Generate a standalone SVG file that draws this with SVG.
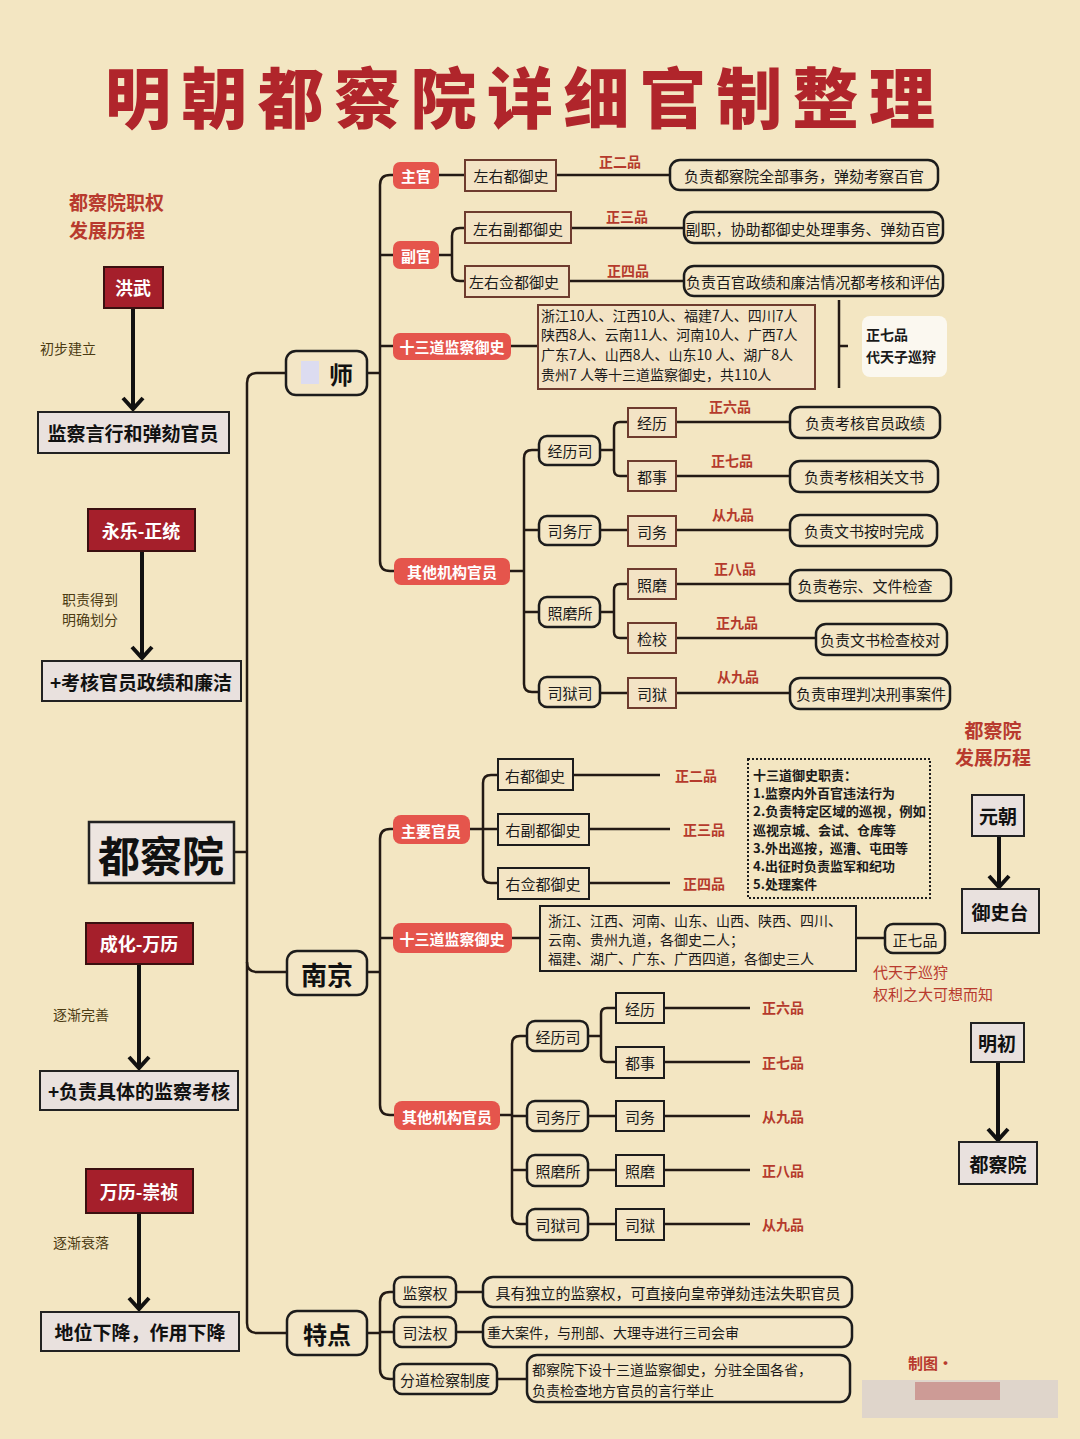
<svg xmlns="http://www.w3.org/2000/svg" width="1080" height="1439" viewBox="0 0 1080 1439">
<defs>
<style>
text{font-family:"Noto Sans CJK SC","Noto Sans CJK JP",sans-serif;}
.ln{stroke:#231a14;stroke-width:2.5;fill:none;}
.arr{stroke:#111;stroke-width:4;fill:none;}
.era{fill:#a51f2b;stroke:#3a1010;stroke-width:2;}
.erat{fill:#fff;font-size:18px;font-weight:700;text-anchor:middle;dominant-baseline:central;}
.res{fill:#e9e1de;stroke:#222;stroke-width:2;}
.rest{fill:#111;font-size:19px;font-weight:700;text-anchor:middle;dominant-baseline:central;}
.pill{fill:#e5554c;}
.pillt{fill:#fff;font-size:15px;font-weight:700;text-anchor:middle;dominant-baseline:central;}
.nb{fill:#f3e3c5;stroke:#6e3b2e;stroke-width:2;}
.kb{fill:#f3e5c5;stroke:#1c1c1c;stroke-width:2;}
.rb{fill:#f3e6c6;stroke:#1c1c1c;stroke-width:2.5;}
.t{fill:#1a1a1a;font-size:15px;text-anchor:middle;dominant-baseline:central;}
.tl{fill:#1a1a1a;font-size:14px;dominant-baseline:central;}
.big{fill:#111;font-weight:700;text-anchor:middle;dominant-baseline:central;}
.gr{fill:#b53a2c;font-size:14px;font-weight:700;text-anchor:middle;dominant-baseline:central;}
.note{fill:#4b3b12;font-size:14px;dominant-baseline:central;}
.red{fill:#b83a2e;font-size:19px;font-weight:700;dominant-baseline:central;}
.redn{fill:#b83a2e;font-size:15px;dominant-baseline:central;}
.duty{fill:#1a1a1a;font-size:13px;font-weight:700;dominant-baseline:central;}
</style>
</defs>
<rect width="1080" height="1439" fill="#f3e6c2"/>

<text x="520" y="94" font-size="66" font-weight="900" fill="#b0252b" text-anchor="middle" dominant-baseline="central" textLength="830" lengthAdjust="spacing">明朝都察院详细官制整理</text>

<!-- connectors -->
<g id="connectors">
<!-- timeline arrows -->
<path class="arr" d="M133,308 V409 M123,398 L133,409 L143,398"/>
<path class="arr" d="M142,551 V658 M132,647 L142,658 L152,647"/>
<path class="arr" d="M139,964 V1068 M129,1057 L139,1068 L149,1057"/>
<path class="arr" d="M139,1213 V1309 M129,1298 L139,1309 L149,1298"/>
<path class="arr" d="M999,836 V887 M989,876 L999,887 L1009,876"/>
<path class="arr" d="M998,1062 V1140 M988,1129 L998,1140 L1008,1129"/>
<!-- main spine -->
<path class="ln" d="M286,373 H257 Q247,373 247,383 V1323 Q247,1333 257,1333 H287"/>
<path class="ln" d="M234,852 H247"/>
<path class="ln" d="M247,962 Q247,972 257,972 H287"/>
<!-- jingshi -->
<path class="ln" d="M367,373 H380"/>
<path class="ln" d="M393,175 H390 Q380,175 380,185 V561 Q380,571 390,571 H394"/>
<path class="ln" d="M380,255 H393 M380,346 H393"/>
<path class="ln" d="M439,175 H465 M556,175 H670"/>
<path class="ln" d="M439,255 H452"/>
<path class="ln" d="M465,228 H460 Q452,228 452,236 V273 Q452,281 460,281 H465"/>
<path class="ln" d="M571,228 H684 M569,281 H684"/>
<path class="ln" d="M511,346 H540"/>
<path class="ln" d="M839,300 V388 M839,346 H848"/>
<path class="ln" d="M510,571 H524"/>
<path class="ln" d="M539,450 H532 Q524,450 524,458 V684 Q524,692 532,692 H539"/>
<path class="ln" d="M524,530 H539 M524,612 H539"/>
<path class="ln" d="M600,450 H614 M628,422 H620 Q614,422 614,428 V470 Q614,476 620,476 H628"/>
<path class="ln" d="M600,530 H628"/>
<path class="ln" d="M600,612 H614 M628,584 H620 Q614,584 614,590 V632 Q614,638 620,638 H628"/>
<path class="ln" d="M600,693 H628"/>
<path class="ln" d="M676,422 H790 M676,476 H790 M676,530 H790 M676,584 H790 M676,638 H816 M676,693 H790"/>
<!-- nanjing -->
<path class="ln" d="M367,972 H380"/>
<path class="ln" d="M393,829 H390 Q380,829 380,839 V1105 Q380,1115 390,1115 H394"/>
<path class="ln" d="M380,938 H393"/>
<path class="ln" d="M470,829 H483 M498,775 H491 Q483,775 483,783 V875 Q483,883 491,883 H498 M483,829 H498"/>
<path class="ln" d="M573,775 H660 M589,829 H670 M589,883 H670"/>
<path class="ln" d="M512,938 H540 M856,938 H885"/>
<path class="ln" d="M500,1115 H512"/>
<path class="ln" d="M527,1036 H520 Q512,1036 512,1044 V1216 Q512,1224 520,1224 H527 M512,1116 H527 M512,1170 H527"/>
<path class="ln" d="M588,1036 H601 M616,1008 H607 Q601,1008 601,1014 V1056 Q601,1062 607,1062 H616"/>
<path class="ln" d="M588,1116 H616 M588,1170 H616 M588,1224 H616"/>
<path class="ln" d="M664,1008 H750 M664,1062 H750 M664,1116 H750 M664,1170 H750 M664,1224 H750"/>
<!-- tedian -->
<path class="ln" d="M367,1333 H380"/>
<path class="ln" d="M394,1292 H390 Q380,1292 380,1302 V1369 Q380,1379 390,1379 H394 M380,1332 H394"/>
<path class="ln" d="M456,1292 H483 M456,1332 H483 M497,1379 H527"/>
</g>

<!-- left timeline -->
<g id="title-left">
<text class="red" x="69" y="201">都察院职权</text>
<text class="red" x="69" y="229">发展历程</text>
</g>
<g id="era-hongwu"><rect class="era" x="104" y="267" width="59" height="41"/><text class="erat" x="133" y="287">洪武</text></g>
<text class="note" x="40" y="348">初步建立</text>
<g id="res-1"><rect class="res" x="38" y="412" width="191" height="41"/><text class="rest" x="133" y="432">监察言行和弹劾官员</text></g>
<g id="era-yongle"><rect class="era" x="88" y="509" width="107" height="42"/><text class="erat" x="141" y="530">永乐-正统</text></g>
<text class="note" x="62" y="599">职责得到</text>
<text class="note" x="62" y="619">明确划分</text>
<g id="res-2"><rect class="res" x="42" y="661" width="199" height="40"/><text class="rest" x="141" y="681">+考核官员政绩和廉洁</text></g>
<g id="duchayuan"><rect fill="#ede5e0" stroke="#222" stroke-width="2.5" x="89" y="822" width="145" height="61"/><text class="big" x="161" y="853" font-size="42">都察院</text></g>
<g id="era-chenghua"><rect class="era" x="86" y="923" width="107" height="41"/><text class="erat" x="139" y="943">成化-万历</text></g>
<text class="note" x="53" y="1014">逐渐完善</text>
<g id="res-3"><rect class="res" x="40" y="1071" width="198" height="39"/><text class="rest" x="139" y="1090">+负责具体的监察考核</text></g>
<g id="era-wanli"><rect class="era" x="86" y="1169" width="107" height="44"/><text class="erat" x="139" y="1191">万历-崇祯</text></g>
<text class="note" x="53" y="1242">逐渐衰落</text>
<g id="res-4"><rect class="res" x="41" y="1312" width="198" height="39"/><text class="rest" x="140" y="1331">地位下降，作用下降</text></g>

<!-- level 1 -->
<g id="jingshi"><rect class="rb" x="286" y="351" width="81" height="44" rx="10"/><rect x="301" y="361" width="18" height="23" fill="#dcdcf0"/><text class="big" x="341" y="373" font-size="24">师</text></g>
<g id="nanjing"><rect class="rb" x="287" y="951" width="80" height="44" rx="10"/><text class="big" x="327" y="973" font-size="26">南京</text></g>
<g id="tedian"><rect class="rb" x="287" y="1311" width="80" height="44" rx="10"/><text class="big" x="327" y="1333" font-size="24">特点</text></g>

<!-- jingshi branches -->
<g id="js-zhuguan"><rect class="pill" x="393" y="162" width="46" height="27" rx="7"/><text class="pillt" x="416" y="175">主官</text></g>
<g id="js-fuguan"><rect class="pill" x="393" y="241" width="46" height="28" rx="7"/><text class="pillt" x="416" y="255">副官</text></g>
<g id="js-13"><rect class="pill" x="393" y="333" width="118" height="27" rx="7"/><text class="pillt" x="452" y="346">十三道监察御史</text></g>
<g id="js-other"><rect class="pill" x="394" y="558" width="116" height="27" rx="7"/><text class="pillt" x="452" y="571">其他机构官员</text></g>

<g id="js-zuoyou"><rect class="nb" x="465" y="160" width="91" height="31"/><text class="t" x="511" y="175">左右都御史</text></g>
<text class="gr" x="620" y="161">正二品</text>
<g id="js-d1"><rect class="rb" x="670" y="160" width="268" height="30" rx="10"/><text class="t" x="804" y="175">负责都察院全部事务，弹劾考察百官</text></g>

<g id="js-fudu"><rect class="nb" x="465" y="212" width="106" height="31"/><text class="t" x="518" y="228">左右副都御史</text></g>
<text class="gr" x="627" y="216">正三品</text>
<g id="js-d2"><rect class="rb" x="684" y="212" width="259" height="31" rx="10"/><text class="t" x="813" y="228" font-size="14">副职，协助都御史处理事务、弹劾百官</text></g>

<g id="js-qiandu"><rect class="nb" x="465" y="266" width="104" height="31"/><text class="t" x="514" y="281">左右佥都御史</text></g>
<text class="gr" x="628" y="270">正四品</text>
<g id="js-d3"><rect class="rb" x="684" y="266" width="259" height="30" rx="10"/><text class="t" x="813" y="281" textLength="254" lengthAdjust="spacingAndGlyphs">负责百官政绩和廉洁情况都考核和评估</text></g>

<g id="js-13list"><rect class="nb" x="538" y="305" width="277" height="84"/>
<text class="tl" x="541" y="315">浙江10人、江西10人、福建7人、四川7人</text>
<text class="tl" x="541" y="334">陕西8人、云南11人、河南10人、广西7人</text>
<text class="tl" x="541" y="354">广东7人、山西8人、山东10 人、湖广8人</text>
<text class="tl" x="541" y="374">贵州7 人等十三道监察御史，共110人</text></g>
<g id="js-13rank"><rect x="862" y="316" width="85" height="61" rx="8" fill="#fbf8f0"/>
<text class="tl" x="866" y="334" font-size="16" font-weight="700">正七品</text>
<text class="tl" x="866" y="356" font-size="16" font-weight="700">代天子巡狩</text></g>

<g id="js-jls"><rect class="rb" x="539" y="436" width="61" height="29" rx="8"/><text class="t" x="570" y="450" font-size="16">经历司</text></g>
<g id="js-swt"><rect class="rb" x="539" y="516" width="61" height="29" rx="8"/><text class="t" x="570" y="530" font-size="16">司务厅</text></g>
<g id="js-zms"><rect class="rb" x="539" y="597" width="61" height="30" rx="8"/><text class="t" x="570" y="612" font-size="16">照磨所</text></g>
<g id="js-sys"><rect class="rb" x="539" y="677" width="61" height="30" rx="8"/><text class="t" x="570" y="692" font-size="16">司狱司</text></g>

<g id="js-jl"><rect class="nb" x="628" y="408" width="48" height="29"/><text class="t" x="652" y="422" font-size="14">经历</text></g>
<g id="js-ds"><rect class="nb" x="628" y="461" width="48" height="30"/><text class="t" x="652" y="476" font-size="14">都事</text></g>
<g id="js-sw"><rect class="nb" x="628" y="516" width="48" height="30"/><text class="t" x="652" y="531" font-size="14">司务</text></g>
<g id="js-zm"><rect class="nb" x="628" y="569" width="48" height="30"/><text class="t" x="652" y="584" font-size="14">照磨</text></g>
<g id="js-jj"><rect class="nb" x="628" y="623" width="48" height="30"/><text class="t" x="652" y="638" font-size="14">检校</text></g>
<g id="js-sy"><rect class="nb" x="628" y="678" width="48" height="30"/><text class="t" x="652" y="693" font-size="14">司狱</text></g>

<text class="gr" x="730" y="406">正六品</text>
<text class="gr" x="732" y="460">正七品</text>
<text class="gr" x="733" y="514">从九品</text>
<text class="gr" x="735" y="568">正八品</text>
<text class="gr" x="737" y="622">正九品</text>
<text class="gr" x="738" y="676">从九品</text>

<g id="js-e1"><rect class="rb" x="790" y="407" width="150" height="31" rx="10"/><text class="t" x="865" y="422" font-size="14">负责考核官员政绩</text></g>
<g id="js-e2"><rect class="rb" x="790" y="461" width="148" height="31" rx="10"/><text class="t" x="864" y="476" font-size="14">负责考核相关文书</text></g>
<g id="js-e3"><rect class="rb" x="790" y="515" width="147" height="31" rx="10"/><text class="t" x="864" y="530" font-size="14">负责文书按时完成</text></g>
<g id="js-e4"><rect class="rb" x="790" y="570" width="161" height="31" rx="10"/><text class="t" x="865" y="585" font-size="14">负责卷宗、文件检查</text></g>
<g id="js-e5"><rect class="rb" x="816" y="624" width="131" height="31" rx="10"/><text class="t" x="880" y="639" font-size="14">负责文书检查校对</text></g>
<g id="js-e6"><rect class="rb" x="790" y="678" width="160" height="31" rx="10"/><text class="t" x="871" y="693" font-size="14">负责审理判决刑事案件</text></g>

<!-- nanjing branches -->
<g id="nj-main"><rect class="pill" x="393" y="815" width="77" height="29" rx="8"/><text class="pillt" x="431" y="830">主要官员</text></g>
<g id="nj-13"><rect class="pill" x="393" y="923" width="119" height="30" rx="8"/><text class="pillt" x="452" y="938">十三道监察御史</text></g>
<g id="nj-other"><rect class="pill" x="394" y="1101" width="106" height="29" rx="8"/><text class="pillt" x="447" y="1116">其他机构官员</text></g>

<g id="nj-you"><rect class="kb" x="498" y="759" width="75" height="31"/><text class="t" x="535" y="775">右都御史</text></g>
<g id="nj-youfu"><rect class="kb" x="498" y="814" width="91" height="31"/><text class="t" x="543" y="829">右副都御史</text></g>
<g id="nj-youqian"><rect class="kb" x="498" y="868" width="91" height="31"/><text class="t" x="543" y="883">右佥都御史</text></g>
<text class="gr" x="696" y="775">正二品</text>
<text class="gr" x="704" y="829">正三品</text>
<text class="gr" x="704" y="883">正四品</text>

<g id="nj-duties"><rect x="748" y="759" width="182" height="139" fill="none" stroke="#1c1c1c" stroke-width="2" stroke-dasharray="2,2"/>
<text class="duty" x="753" y="774">十三道御史职责：</text>
<text class="duty" x="753" y="792">1.监察内外百官违法行为</text>
<text class="duty" x="753" y="810" textLength="173" lengthAdjust="spacingAndGlyphs">2.负责特定区域的巡视，例如</text>
<text class="duty" x="753" y="829">巡视京城、会试、仓库等</text>
<text class="duty" x="753" y="847">3.外出巡按，巡漕、屯田等</text>
<text class="duty" x="753" y="865">4.出征时负责监军和纪功</text>
<text class="duty" x="753" y="883">5.处理案件</text></g>

<g id="nj-13list"><rect class="kb" x="540" y="906" width="316" height="65"/>
<text class="tl" x="548" y="920">浙江、江西、河南、山东、山西、陕西、四川、</text>
<text class="tl" x="548" y="939">云南、贵州九道，各御史二人；</text>
<text class="tl" x="548" y="958">福建、湖广、广东、广西四道，各御史三人</text></g>
<g id="nj-13rank"><rect class="rb" x="885" y="924" width="60" height="29" rx="8"/><text class="t" x="915" y="939">正七品</text></g>
<text class="redn" x="873" y="971">代天子巡狩</text>
<text class="redn" x="873" y="993">权利之大可想而知</text>

<g id="nj-jls"><rect class="rb" x="527" y="1021" width="61" height="30" rx="8"/><text class="t" x="558" y="1036" font-size="16">经历司</text></g>
<g id="nj-swt"><rect class="rb" x="527" y="1101" width="61" height="30" rx="8"/><text class="t" x="558" y="1116" font-size="16">司务厅</text></g>
<g id="nj-zms"><rect class="rb" x="527" y="1155" width="61" height="31" rx="8"/><text class="t" x="558" y="1170" font-size="16">照磨所</text></g>
<g id="nj-sys"><rect class="rb" x="527" y="1209" width="61" height="31" rx="8"/><text class="t" x="558" y="1224" font-size="16">司狱司</text></g>

<g id="nj-jl"><rect class="kb" x="616" y="993" width="48" height="30"/><text class="t" x="640" y="1008" font-size="14">经历</text></g>
<g id="nj-ds"><rect class="kb" x="616" y="1047" width="48" height="31"/><text class="t" x="640" y="1062" font-size="14">都事</text></g>
<g id="nj-sw"><rect class="kb" x="616" y="1101" width="48" height="30"/><text class="t" x="640" y="1116" font-size="14">司务</text></g>
<g id="nj-zm"><rect class="kb" x="616" y="1155" width="48" height="31"/><text class="t" x="640" y="1170" font-size="14">照磨</text></g>
<g id="nj-sy"><rect class="kb" x="616" y="1209" width="48" height="31"/><text class="t" x="640" y="1224" font-size="14">司狱</text></g>
<text class="gr" x="783" y="1007">正六品</text>
<text class="gr" x="783" y="1062">正七品</text>
<text class="gr" x="783" y="1116">从九品</text>
<text class="gr" x="783" y="1170">正八品</text>
<text class="gr" x="783" y="1224">从九品</text>

<!-- tedian -->
<g id="td-1"><rect class="rb" x="394" y="1277" width="62" height="30" rx="8"/><text class="t" x="425" y="1292">监察权</text></g>
<g id="td-2"><rect class="rb" x="394" y="1317" width="62" height="30" rx="8"/><text class="t" x="425" y="1332">司法权</text></g>
<g id="td-3"><rect class="rb" x="394" y="1364" width="103" height="30" rx="8"/><text class="t" x="445" y="1379">分道检察制度</text></g>
<g id="td-d1"><rect class="rb" x="483" y="1277" width="369" height="30" rx="10"/><text class="t" x="668" y="1292" font-size="15.5">具有独立的监察权，可直接向皇帝弹劾违法失职官员</text></g>
<g id="td-d2"><rect class="rb" x="483" y="1317" width="369" height="30" rx="10"/><text class="tl" x="487" y="1332" font-size="15.5">重大案件，与刑部、大理寺进行三司会审</text></g>
<g id="td-d3"><rect class="rb" x="527" y="1355" width="323" height="47" rx="10"/>
<text class="tl" x="532" y="1369" font-size="15.5">都察院下设十三道监察御史，分驻全国各省，</text>
<text class="tl" x="532" y="1390" font-size="15.5">负责检查地方官员的言行举止</text></g>

<!-- right timeline -->
<text class="red" x="993" y="729" text-anchor="middle">都察院</text>
<text class="red" x="993" y="756" text-anchor="middle">发展历程</text>
<g id="yuan"><rect class="res" x="972" y="795" width="52" height="41"/><text class="rest" x="998" y="815">元朝</text></g>
<g id="yushitai"><rect class="res" x="962" y="889" width="77" height="44"/><text class="rest" x="1000" y="911">御史台</text></g>
<g id="mingchu"><rect class="res" x="971" y="1023" width="53" height="39"/><text class="rest" x="997" y="1042">明初</text></g>
<g id="dcy2"><rect class="res" x="959" y="1142" width="78" height="42"/><text class="rest" x="998" y="1163">都察院</text></g>

<!-- credit -->
<text x="908" y="1362" fill="#b83a2e" font-size="15" font-weight="700" dominant-baseline="central">制图·</text>
<rect x="862" y="1380" width="196" height="38" fill="#ddd3cc" opacity="0.9"/>
<rect x="915" y="1382" width="85" height="18" fill="#c88c88" opacity="0.8"/>
</svg>
